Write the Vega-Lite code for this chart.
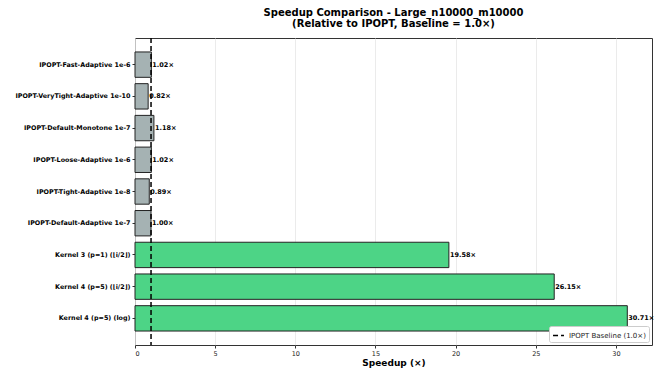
{
  "$schema": "https://vega.github.io/schema/vega-lite/v6.json",
  "width": 517,
  "height": 307,
  "autosize": {"type": "none"},
  "padding": {"left": 135, "top": 38, "right": 10, "bottom": 27},
  "config": {
    "font": "DejaVu Sans",
    "view": {"stroke": "#333333", "strokeWidth": 1}
  },
  "title": {
    "text": ["Speedup Comparison - Large_n10000_m10000", "(Relative to IPOPT, Baseline = 1.0×)"],
    "fontSize": 10,
    "fontWeight": "bold",
    "font": "DejaVu Sans",
    "color": "#000000",
    "anchor": "middle",
    "frame": "group",
    "offset": 8,
    "lineHeight": 11.5
  },
  "datasets": {
    "bars": [
      {"method": "IPOPT-Fast-Adaptive 1e-6", "speedup": 1.02, "group": "ipopt"},
      {"method": "IPOPT-VeryTight-Adaptive 1e-10", "speedup": 0.82, "group": "ipopt"},
      {"method": "IPOPT-Default-Monotone 1e-7", "speedup": 1.18, "group": "ipopt"},
      {"method": "IPOPT-Loose-Adaptive 1e-6", "speedup": 1.02, "group": "ipopt"},
      {"method": "IPOPT-Tight-Adaptive 1e-8", "speedup": 0.89, "group": "ipopt"},
      {"method": "IPOPT-Default-Adaptive 1e-7", "speedup": 1.00, "group": "ipopt"},
      {"method": "Kernel 3 (p=1) (⌊i/2⌋)", "speedup": 19.58, "group": "kernel"},
      {"method": "Kernel 4 (p=5) (⌊i/2⌋)", "speedup": 26.15, "group": "kernel"},
      {"method": "Kernel 4 (p=5) (log)", "speedup": 30.71, "group": "kernel"}
    ],
    "baseline": [
      {"x": 1, "label": "IPOPT Baseline (1.0×)"}
    ]
  },
  "layer": [
    {
      "data": {"name": "bars"},
      "mark": {"type": "bar", "stroke": "#222222", "strokeWidth": 1, "opacity": 1},
      "encoding": {
        "y": {
          "field": "method", "type": "nominal", "sort": null,
          "scale": {"paddingInner": 0.2, "paddingOuter": 0.44},
          "axis": {
            "title": null, "labelFontSize": 6.4, "labelFontWeight": "bold",
            "labelColor": "#000000", "tickSize": 3, "tickColor": "#333333",
            "labelPadding": 2, "domain": false, "labelLimit": 200
          }
        },
        "x": {
          "field": "speedup", "type": "quantitative",
          "scale": {"domain": [0, 32.25], "nice": false, "zero": true},
          "axis": {
            "title": "Speedup (×)", "titleFontSize": 9, "titleFontWeight": "bold",
            "titleColor": "#000000", "titlePadding": 2,
            "values": [0, 5, 10, 15, 20, 25, 30], "labelFontSize": 6.5, "labelColor": "#222222",
            "tickSize": 3, "tickColor": "#333333", "domain": false,
            "grid": true, "gridColor": "#e6e6e6", "gridWidth": 0.8
          }
        },
        "color": {
          "field": "group", "type": "nominal",
          "scale": {"domain": ["ipopt", "kernel"], "range": ["#a5b2b3", "#4dd486"]},
          "legend": null
        }
      }
    },
    {
      "data": {"name": "bars"},
      "transform": [{"calculate": "format(datum.speedup, '.2f') + '×'", "as": "lbl"}],
      "mark": {"type": "text", "align": "left", "baseline": "middle", "dx": 1, "fontSize": 6.5, "fontWeight": "bold", "color": "#000000"},
      "encoding": {
        "y": {"field": "method", "type": "nominal", "sort": null},
        "x": {"field": "speedup", "type": "quantitative"},
        "text": {"field": "lbl"}
      }
    },
    {
      "data": {"name": "baseline"},
      "mark": {"type": "rule", "color": "#000000", "strokeWidth": 1.5},
      "encoding": {
        "x": {"field": "x", "type": "quantitative"},
        "strokeDash": {
          "field": "label", "type": "nominal",
          "scale": {"range": [[5, 3]]},
          "legend": {
            "title": null, "orient": "bottom-right", "offset": 3,
            "labelFontSize": 7, "labelColor": "#222222", "symbolType": "stroke",
            "symbolStrokeColor": "#000000", "symbolStrokeWidth": 1.5, "symbolSize": 120,
            "strokeColor": "#cccccc", "fillColor": "#ffffff", "padding": 3, "cornerRadius": 2,
            "labelOffset": 4
          }
        }
      }
    }
  ]
}
